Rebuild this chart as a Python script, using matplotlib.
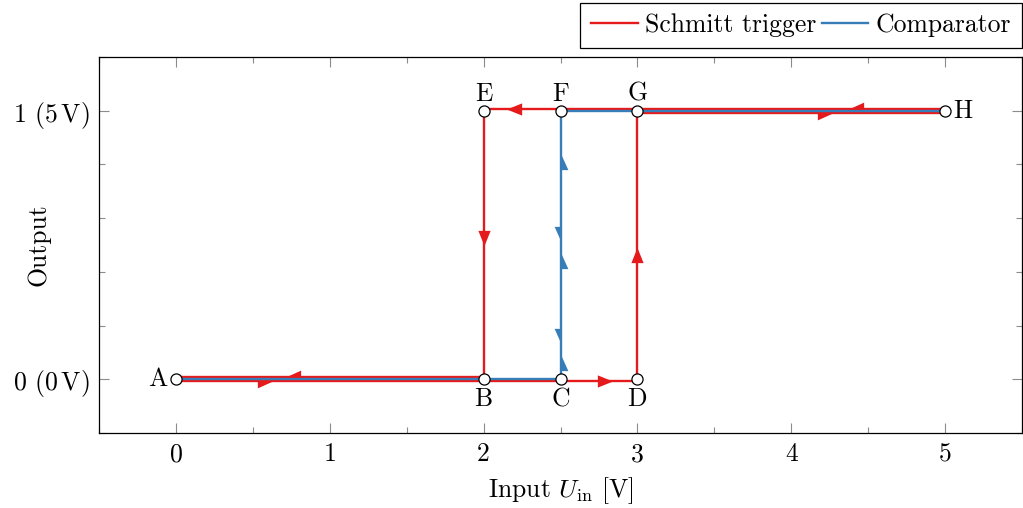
import matplotlib
matplotlib.use("Agg")
import matplotlib.pyplot as plt
from matplotlib.path import Path
from matplotlib.transforms import offset_copy

plt.rcParams["font.family"] = "serif"
plt.rcParams["font.serif"] = ["cmr10"]
plt.rcParams["mathtext.fontset"] = "cm"
plt.rcParams["axes.formatter.use_mathtext"] = True
plt.rcParams["font.size"] = 18.5

RED = "#E41A1C"
BLUE = "#377EB8"

# Corner points of the hysteresis loop (input voltage, logical output)
point_names = ["A", "B", "C", "D", "E", "F", "G", "H"]
point_x = [0, 2, 2.5, 3, 2, 2.5, 3, 5]
point_y = [0, 0, 0, 0, 1, 1, 1, 1]

# Schmitt trigger: rising input follows the lower threshold path, falling input the upper one
schmitt_up_x = [0, 2, 2.5, 3, 3, 5]
schmitt_up_y = [0, 0, 0, 0, 1, 1]
schmitt_down_x = [5, 3, 2.5, 2, 2, 0]
schmitt_down_y = [1, 1, 1, 1, 0, 0]

# Comparator: a single threshold at 2.5 V
comp_x = [0, 2.5, 2.5, 5]
comp_y = [0, 0, 1, 1]

xticks = [0, 1, 2, 3, 4, 5]
yticks = [0, 1]
ytick_labels = [r"0 $(0\,\mathrm{V})$", r"1 $(5\,\mathrm{V})$"]

fig = plt.figure(figsize=(10.23, 5.08), dpi=100)
ax = fig.add_axes([0.0968, 0.1476, 0.9022, 0.7402])

up_tr = offset_copy(ax.transData, fig=fig, x=0, y=-1.4, units="points")
down_tr = offset_copy(ax.transData, fig=fig, x=0, y=1.4, units="points")

LW = 1.7
ax.plot(schmitt_up_x, schmitt_up_y, color=RED, lw=LW, transform=up_tr,
        label="Schmitt trigger", zorder=3, solid_joinstyle="miter")
ax.plot(schmitt_down_x, schmitt_down_y, color=RED, lw=LW, transform=down_tr,
        zorder=3, solid_joinstyle="miter")
ax.plot(comp_x, comp_y, color=BLUE, lw=LW, label="Comparator", zorder=4,
        solid_joinstyle="miter")

# Arrowhead shapes
full_right = Path([(-1, -0.8), (1, 0), (-1, 0.8), (-1, -0.8)], closed=True)
full_left = Path([(1, -0.8), (-1, 0), (1, 0.8), (1, -0.8)], closed=True)
full_up = Path([(-0.8, -1), (0, 1), (0.8, -1), (-0.8, -1)], closed=True)
full_down = Path([(-0.8, 1), (0, -1), (0.8, 1), (-0.8, 1)], closed=True)
half_right_low = Path([(-1, 0), (1, 0), (-1, -0.9), (-1, 0)], closed=True)
half_left_high = Path([(1, 0), (-1, 0), (1, 0.9), (1, 0)], closed=True)
half_up_right = Path([(0, -1), (0, 1), (0.9, -1), (0, -1)], closed=True)
half_down_left = Path([(0, 1), (0, -1), (-0.9, 1), (0, 1)], closed=True)


def arrow(x, y, shape, color, tr, size=11):
    ax.plot([x], [y], marker=shape, ms=size, color=color, mec="none",
            transform=tr, zorder=5, linestyle="none")


# Schmitt trigger direction marks
arrow(0.58, 0, half_right_low, RED, up_tr)
arrow(2.79, 0, full_right, RED, up_tr)
arrow(3, 0.47, full_up, RED, up_tr)
arrow(4.22, 1, half_right_low, RED, up_tr)
arrow(4.42, 1, half_left_high, RED, down_tr)
arrow(2.2, 1, full_left, RED, down_tr)
arrow(2, 0.52, full_down, RED, down_tr)
arrow(0.76, 0, half_left_high, RED, down_tr)

# Comparator direction marks on the switching edge
for yy in [0.06, 0.44, 0.81]:
    arrow(2.5, yy, half_up_right, BLUE, ax.transData)
for yy in [0.16, 0.54]:
    arrow(2.5, yy, half_down_left, BLUE, ax.transData)

ax.plot(point_x, point_y, linestyle="none", marker="o", ms=8, mfc="white",
        mec="black", mew=0.9, zorder=6)

for name, px, py in zip(point_names, point_x, point_y):
    if name == "A":
        ax.annotate(name, (px, py), xytext=(-6, 0), textcoords="offset points",
                    ha="right", va="center")
    elif name == "H":
        ax.annotate(name, (px, py), xytext=(6, 0), textcoords="offset points",
                    ha="left", va="center")
    elif py == 0:
        ax.annotate(name, (px, py), xytext=(0, -6), textcoords="offset points",
                    ha="center", va="top")
    else:
        ax.annotate(name, (px, py), xytext=(0, 3.5), textcoords="offset points",
                    ha="center", va="bottom")

ax.set_xlim(-0.5, 5.5)
ax.set_ylim(-0.2, 1.2)
ax.set_xticks(xticks)
ax.set_xticklabels([str(t) for t in xticks])
ax.set_xticks([-0.5 + 0.5 * i for i in range(13)], minor=True)
ax.set_yticks(yticks)
ax.set_yticklabels(ytick_labels)
ax.set_yticks([-0.2 + 0.2 * i for i in range(8)], minor=True)

ax.tick_params(which="both", direction="in", top=True, right=True,
               color="#8c8c8c", width=0.8)
ax.tick_params(which="major", length=7.5, pad=7)
ax.tick_params(which="minor", length=4.5)
for s in ax.spines.values():
    s.set_linewidth(0.9)

ax.set_xlabel(r"Input $U_{\mathrm{in}}$ [V]", labelpad=6)
ax.set_ylabel("Output")
ax.yaxis.set_label_coords(-0.053, 0.5)

leg = ax.legend(loc="lower right", bbox_to_anchor=(1.0, 1.024), ncol=2,
                frameon=True, fancybox=False, edgecolor="black",
                framealpha=1, borderaxespad=0.0, handlelength=1.8,
                handletextpad=0.3, columnspacing=0.2, borderpad=0.42)
leg.get_frame().set_linewidth(0.9)

fig.savefig("out.png", dpi=100)
